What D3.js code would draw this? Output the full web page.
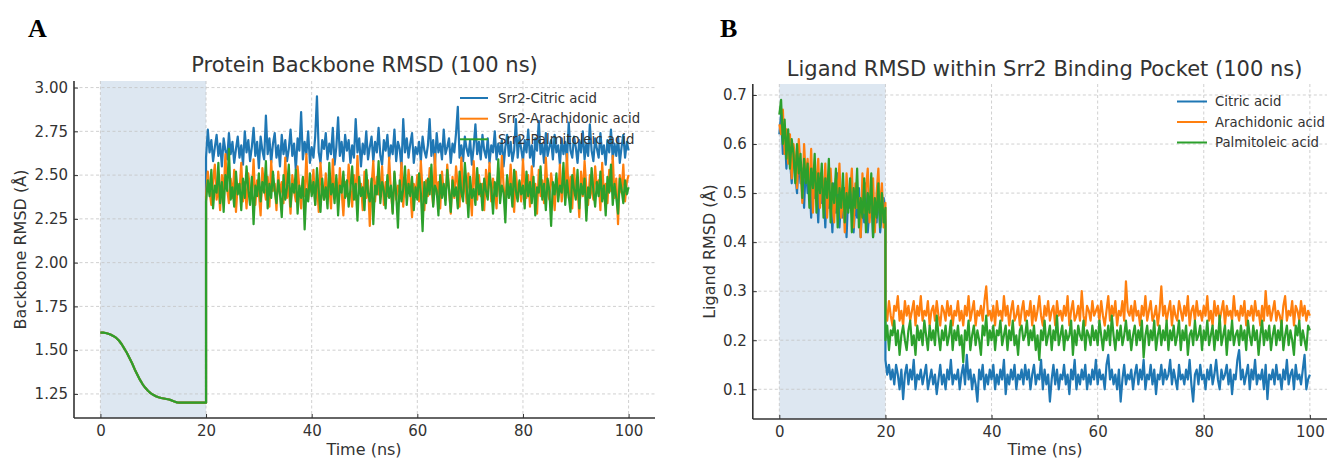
<!DOCTYPE html>
<html><head><meta charset="utf-8">
<script src="https://cdn.jsdelivr.net/npm/d3@7"></script>
<style>body{margin:0;background:#fff} svg{display:block}</style>
</head><body>
<svg id="c" width="1327" height="460"></svg>
<script>
// ---------------- data ----------------
const xTicks = [0, 20, 40, 60, 80, 100];
const yTicksA = [1.25, 1.50, 1.75, 2.00, 2.25, 2.50, 2.75, 3.00];
const yTicksB = [0.1, 0.2, 0.3, 0.4, 0.5, 0.6, 0.7];
const legendA = ["Srr2-Citric acid", "Srr2-Arachidonic acid", "Srr2-Palmitoleic acid"];
const legendB = ["Citric acid", "Arachidonic acid", "Palmitoleic acid"];
const equilEnd = 20;   // ns, shaded equilibration window
const simEnd = 100;    // ns

// Panel A, 0-20 ns (shared by the three systems)
const preA = [1.60,1.60,1.598,1.594,1.588,1.58,1.57,1.555,1.535,1.51,1.485,1.455,1.425,1.39,1.36,1.33,1.305,1.285,1.268,1.255,1.245,1.237,1.231,1.227,1.224,1.221,1.218,1.213,1.207,1.202,1.20,1.20,1.20,1.20,1.20,1.20,1.20,1.20,1.20,1.20,1.20];

// Panel A, 20-100 ns
const postA_citric = [2.60,2.76,2.63,2.70,2.58,2.66,2.73,2.61,2.68,2.55,2.71,2.64,2.59,2.74,2.62,2.69,2.57,2.65,2.72,2.60,
2.67,2.56,2.75,2.63,2.70,2.58,2.66,2.77,2.61,2.69,2.54,2.72,2.64,2.59,2.84,2.62,2.71,2.57,2.68,2.74,
2.60,2.67,2.55,2.73,2.62,2.70,2.58,2.65,2.76,2.61,2.68,2.53,2.71,2.64,2.86,2.59,2.69,2.62,2.75,2.57,
2.66,2.60,2.72,2.95,2.63,2.57,2.70,2.65,2.74,2.59,2.68,2.62,2.77,2.56,2.66,2.83,2.61,2.69,2.58,2.73,
2.64,2.70,2.57,2.67,2.60,2.82,2.63,2.71,2.55,2.68,2.62,2.75,2.59,2.66,2.72,2.58,2.69,2.63,2.77,2.61,
2.56,2.70,2.64,2.73,2.59,2.67,2.62,2.76,2.58,2.69,2.65,2.54,2.82,2.63,2.71,2.60,2.68,2.74,2.57,2.66,
2.62,2.69,2.58,2.72,2.64,2.60,2.67,2.82,2.61,2.70,2.56,2.74,2.63,2.68,2.59,2.76,2.62,2.66,2.71,2.57,
2.68,2.63,2.74,2.89,2.60,2.67,2.58,2.72,2.65,2.61,2.70,2.56,2.66,2.79,2.62,2.69,2.59,2.73,2.64,2.60,
2.71,2.57,2.67,2.63,2.75,2.59,2.68,2.62,2.70,2.55,2.66,2.73,2.61,2.69,2.58,2.64,2.82,2.60,2.72,2.65,
2.58,2.70,2.63,2.76,2.60,2.67,2.55,2.71,2.64,2.81,2.62,2.68,2.57,2.74,2.61,2.66,2.70,2.59,2.73,2.63,
2.67,2.56,2.71,2.62,2.69,2.58,2.80,2.64,2.60,2.72,2.66,2.57,2.70,2.63,2.75,2.59,2.68,2.61,2.79,2.64,
2.58,2.71,2.65,2.60,2.74,2.62,2.67,2.56,2.70,2.63,2.76,2.59,2.68,2.61,2.72,2.57,2.66,2.73,2.60,2.69,2.64];

const postA_arachidonic = [2.38,2.52,2.41,2.33,2.47,2.56,2.36,2.44,2.30,2.50,2.39,2.62,2.42,2.34,2.48,2.37,2.53,2.29,2.45,2.40,
2.57,2.35,2.46,2.31,2.51,2.42,2.38,2.59,2.33,2.47,2.40,2.27,2.54,2.43,2.36,2.49,2.32,2.58,2.41,2.45,
2.30,2.52,2.39,2.46,2.34,2.60,2.37,2.44,2.28,2.50,2.41,2.35,2.55,2.43,2.31,2.48,2.38,2.62,2.36,2.45,
2.40,2.53,2.33,2.47,2.29,2.57,2.42,2.36,2.51,2.39,2.44,2.31,2.59,2.37,2.48,2.34,2.54,2.41,2.27,2.46,
2.38,2.56,2.43,2.32,2.50,2.36,2.61,2.40,2.45,2.30,2.52,2.37,2.47,2.21,2.44,2.58,2.35,2.49,2.39,2.42,
2.55,2.33,2.46,2.38,2.60,2.41,2.29,2.51,2.36,2.44,2.40,2.57,2.32,2.48,2.37,2.53,2.42,2.26,2.45,2.39,
2.50,2.35,2.58,2.41,2.30,2.47,2.38,2.54,2.43,2.33,2.62,2.39,2.46,2.31,2.52,2.40,2.36,2.56,2.42,2.28,
2.49,2.37,2.55,2.44,2.32,2.60,2.39,2.47,2.34,2.51,2.41,2.27,2.58,2.43,2.36,2.50,2.38,2.45,2.30,2.53,
2.40,2.57,2.35,2.48,2.42,2.31,2.54,2.38,2.61,2.44,2.33,2.49,2.37,2.56,2.41,2.29,2.52,2.39,2.46,2.35,
2.59,2.42,2.37,2.50,2.32,2.55,2.40,2.45,2.28,2.53,2.38,2.47,2.34,2.60,2.41,2.36,2.51,2.43,2.30,2.48,
2.39,2.56,2.35,2.46,2.42,2.62,2.37,2.49,2.31,2.54,2.40,2.44,2.26,2.52,2.38,2.58,2.43,2.33,2.50,2.41,
2.36,2.55,2.42,2.47,2.30,2.57,2.39,2.45,2.34,2.53,2.41,2.61,2.37,2.48,2.22,2.50,2.40,2.56,2.35,2.46,2.50];

const postA_palmitoleic = [2.35,2.47,2.38,2.53,2.31,2.44,2.40,2.57,2.34,2.46,2.29,2.50,2.41,2.65,2.36,2.43,2.32,2.52,2.39,2.45,
2.30,2.48,2.37,2.55,2.42,2.33,2.49,2.22,2.44,2.38,2.51,2.35,2.46,2.40,2.58,2.31,2.45,2.37,2.52,2.41,
2.34,2.47,2.39,2.26,2.50,2.36,2.43,2.56,2.32,2.45,2.40,2.53,2.28,2.44,2.37,2.49,2.19,2.42,2.35,2.51,
2.38,2.46,2.33,2.54,2.41,2.29,2.48,2.36,2.43,2.31,2.57,2.39,2.45,2.34,2.50,2.27,2.44,2.40,2.52,2.37,
2.47,2.32,2.42,2.55,2.36,2.45,2.24,2.49,2.38,2.43,2.30,2.53,2.40,2.35,2.48,2.22,2.44,2.39,2.58,2.34,
2.46,2.41,2.31,2.50,2.37,2.44,2.28,2.52,2.39,2.20,2.47,2.35,2.42,2.55,2.33,2.45,2.38,2.49,2.30,2.43,
2.36,2.51,2.40,2.18,2.46,2.34,2.48,2.39,2.56,2.32,2.44,2.41,2.27,2.50,2.37,2.45,2.33,2.53,2.42,2.29,
2.47,2.38,2.43,2.31,2.52,2.40,2.35,2.57,2.44,2.26,2.49,2.37,2.42,2.33,2.54,2.39,2.45,2.30,2.48,2.41,
2.36,2.51,2.43,2.28,2.46,2.38,2.59,2.34,2.44,2.40,2.23,2.50,2.37,2.45,2.32,2.53,2.41,2.35,2.47,2.39,
2.44,2.31,2.52,2.38,2.46,2.34,2.49,2.27,2.43,2.40,2.55,2.36,2.45,2.30,2.48,2.41,2.21,2.46,2.39,2.51,
2.35,2.44,2.40,2.57,2.33,2.47,2.38,2.29,2.50,2.42,2.36,2.53,2.31,2.45,2.39,2.48,2.24,2.43,2.37,2.54,
2.41,2.32,2.46,2.38,2.52,2.35,2.44,2.27,2.49,2.40,2.56,2.33,2.45,2.37,2.28,2.48,2.42,2.34,2.47,2.39,2.43];

// Panel B, 0-20 ns
const preB_citric = [.62,.66,.58,.63,.55,.61,.57,.52,.59,.54,.50,.57,.52,.55,.47,.56,.50,.53,.45,.55,.49,.52,.44,.54,.48,.51,.43,.53,.47,.50,.42,.52,.46,.54,.43,.49,.45,.51,.41,.50,.47,.53,.42,.48,.45,.51,.41,.49,.44,.52,.42,.47,.50,.41,.48,.44,.51,.42,.46,.49,.44];
const preB_arachidonic = [.64,.62,.67,.58,.63,.56,.62,.53,.60,.57,.51,.61,.55,.48,.60,.53,.57,.50,.59,.46,.55,.52,.57,.47,.54,.49,.56,.45,.52,.55,.48,.44,.53,.50,.56,.45,.51,.42,.54,.48,.50,.55,.43,.52,.47,.49,.41,.54,.46,.51,.55,.44,.49,.53,.42,.50,.55,.45,.52,.43,.48];
const preB_palmitoleic = [.66,.69,.60,.65,.57,.63,.55,.61,.58,.52,.60,.54,.58,.49,.57,.52,.56,.47,.55,.51,.58,.46,.54,.50,.56,.45,.53,.49,.57,.44,.52,.48,.55,.43,.51,.47,.54,.44,.50,.46,.53,.42,.51,.47,.55,.43,.49,.45,.53,.42,.50,.46,.54,.41,.49,.45,.52,.43,.50,.44,.47];

// Panel B, 20-100 ns
const postB_citric = [.16,.13,.15,.12,.14,.11,.15,.13,.10,.14,.08,.13,.15,.11,.14,.12,.16,.10,.13,.12,
.14,.11,.13,.15,.10,.12,.14,.11,.13,.09,.12,.15,.11,.13,.10,.14,.12,.16,.11,.13,
.12,.14,.10,.13,.15,.11,.17,.12,.14,.10,.13,.11,.075,.14,.12,.15,.10,.13,.11,.14,
.12,.15,.10,.13,.11,.14,.12,.16,.09,.13,.11,.14,.12,.15,.10,.13,.12,.14,.11,.15,
.12,.14,.10,.13,.15,.11,.13,.12,.16,.10,.14,.11,.13,.075,.12,.15,.11,.14,.10,.13,
.12,.15,.11,.13,.09,.14,.12,.16,.10,.13,.11,.14,.12,.15,.10,.13,.11,.14,.12,.16,
.11,.14,.12,.13,.10,.15,.17,.12,.14,.11,.13,.10,.14,.075,.12,.15,.11,.13,.12,.14,
.10,.13,.15,.11,.14,.12,.16,.10,.13,.12,.15,.11,.14,.09,.13,.12,.15,.11,.14,.12,
.13,.16,.11,.14,.12,.10,.15,.12,.13,.11,.14,.12,.16,.11,.075,.13,.14,.11,.15,.12,
.13,.10,.14,.12,.15,.11,.13,.16,.12,.10,.14,.12,.13,.15,.11,.14,.09,.13,.12,.16,
.18,.12,.14,.11,.13,.15,.10,.14,.12,.16,.11,.13,.12,.14,.10,.15,.08,.13,.12,.14,
.11,.15,.12,.13,.10,.14,.12,.16,.11,.13,.14,.10,.15,.12,.13,.11,.14,.17,.10,.12,.13];

const postB_arachidonic = [.27,.24,.28,.25,.23,.27,.26,.29,.24,.26,.23,.28,.25,.27,.24,.26,.28,.23,.27,.25,
.29,.24,.26,.25,.28,.23,.26,.27,.24,.28,.25,.23,.27,.26,.24,.28,.25,.27,.23,.26,
.25,.28,.24,.26,.23,.27,.25,.29,.24,.26,.28,.23,.26,.25,.27,.24,.28,.31,.25,.26,
.24,.27,.23,.28,.25,.26,.24,.29,.25,.27,.23,.26,.28,.24,.25,.27,.23,.26,.28,.24,
.26,.25,.28,.23,.27,.24,.26,.29,.25,.23,.27,.25,.28,.24,.26,.27,.23,.28,.25,.26,
.24,.27,.25,.29,.23,.26,.28,.24,.25,.27,.24,.30,.25,.23,.27,.26,.24,.28,.25,.26,
.27,.24,.28,.25,.23,.26,.29,.24,.27,.25,.28,.23,.26,.25,.28,.24,.32,.26,.25,.27,
.24,.28,.25,.26,.23,.27,.25,.29,.24,.26,.28,.24,.25,.27,.23,.26,.31,.25,.27,.24,
.26,.28,.23,.27,.25,.24,.28,.26,.24,.27,.25,.29,.23,.26,.27,.24,.28,.25,.26,.24,
.27,.25,.29,.24,.26,.23,.28,.25,.27,.24,.26,.28,.23,.27,.25,.26,.24,.29,.25,.26,
.24,.27,.25,.28,.23,.26,.25,.27,.24,.28,.25,.26,.23,.27,.24,.30,.25,.27,.24,.26,
.28,.24,.26,.25,.23,.27,.29,.24,.26,.25,.28,.23,.27,.26,.24,.28,.25,.27,.24,.26,.25];

const postB_palmitoleic = [.20,.23,.18,.22,.21,.24,.19,.22,.17,.21,.23,.20,.18,.22,.24,.19,.21,.17,.23,.20,
.22,.19,.24,.21,.18,.23,.20,.22,.19,.25,.21,.18,.22,.20,.23,.19,.21,.24,.18,.22,
.20,.23,.19,.21,.155,.22,.20,.24,.18,.21,.23,.19,.22,.20,.17,.23,.21,.25,.19,.22,
.20,.23,.18,.22,.21,.24,.19,.21,.23,.18,.22,.20,.24,.19,.21,.17,.22,.23,.20,.21,
.24,.19,.22,.20,.23,.18,.21,.16,.22,.20,.24,.19,.21,.23,.18,.22,.20,.25,.19,.21,
.23,.18,.22,.20,.21,.24,.17,.22,.19,.23,.21,.20,.24,.18,.22,.21,.19,.23,.20,.22,
.19,.24,.21,.18,.22,.20,.23,.19,.25,.21,.18,.22,.20,.23,.19,.21,.24,.20,.22,.18,
.21,.23,.19,.22,.20,.24,.165,.21,.23,.19,.22,.20,.24,.18,.21,.23,.19,.22,.20,.24,
.18,.22,.20,.23,.19,.21,.24,.18,.22,.20,.23,.17,.21,.22,.19,.24,.20,.21,.23,.18,
.22,.20,.24,.19,.21,.23,.18,.22,.20,.25,.19,.21,.23,.17,.22,.20,.24,.19,.21,.22,
.19,.23,.20,.22,.18,.24,.21,.19,.23,.20,.22,.17,.21,.24,.19,.22,.20,.23,.18,.21,
.23,.19,.22,.20,.24,.18,.21,.23,.19,.22,.20,.17,.23,.21,.24,.19,.22,.20,.18,.23,.22];

const colors = ["#1f77b4", "#ff7f0e", "#2ca02c"];

// ---------------- drawing ----------------
const svg = d3.select("#c");
const FONT = "'DejaVu Sans', sans-serif";
const TXT = "#333333";

function toPoints(pre, post) {
  const a = pre.map((v, i) => [equilEnd * i / (pre.length - 1), v]);
  const b = post.map((v, i) => [equilEnd + (simEnd - equilEnd) * i / (post.length - 1), v]);
  return a.concat(b);
}

function panel(o) {
  const g = svg.append("g");
  const x = d3.scaleLinear().domain([-5, 105]).range(o.xr);
  const y = d3.scaleLinear().domain(o.yd).range(o.yr);
  const top = o.yr[1], bot = o.yr[0];

  // shaded equilibration window
  g.append("rect")
    .attr("x", x(0)).attr("y", top)
    .attr("width", x(equilEnd) - x(0)).attr("height", bot - top)
    .attr("fill", "#dde7f1");

  // grid
  g.append("g").selectAll("line").data(o.yTicks).join("line")
    .attr("x1", o.xr[0]).attr("x2", o.xr[1])
    .attr("y1", d => y(d)).attr("y2", d => y(d))
    .attr("stroke", "#c4c4c4").attr("stroke-width", 0.8).attr("stroke-dasharray", "3,2.5");
  g.append("g").selectAll("line").data(xTicks).join("line")
    .attr("x1", d => x(d)).attr("x2", d => x(d))
    .attr("y1", top).attr("y2", bot)
    .attr("stroke", "#c4c4c4").attr("stroke-width", 0.8).attr("stroke-dasharray", "3,2.5");

  // series
  const line = d3.line().x(d => x(d[0])).y(d => y(d[1]));
  o.series.forEach((s, k) => {
    g.append("path").datum(toPoints(s[0], s[1]))
      .attr("d", line).attr("fill", "none")
      .attr("stroke", colors[k]).attr("stroke-width", 2.2)
      .attr("stroke-linejoin", "round");
  });

  // axes
  const ax = g.append("g").attr("transform", `translate(0,${bot})`)
    .call(d3.axisBottom(x).tickValues(xTicks).tickFormat(d3.format("d"))
      .tickSizeInner(-4).tickSizeOuter(0).tickPadding(7));
  const ay = g.append("g").attr("transform", `translate(${o.xr[0]},0)`)
    .call(d3.axisLeft(y).tickValues(o.yTicks).tickFormat(d3.format(o.yFmt))
      .tickSizeInner(-4).tickSizeOuter(0).tickPadding(6));
  [ax, ay].forEach(a => {
    a.attr("font-family", FONT).attr("font-size", 15);
    a.select(".domain").attr("stroke", "#333").attr("stroke-width", 1.6);
    a.selectAll(".tick line").attr("stroke", "#333").attr("stroke-width", 1);
    a.selectAll(".tick text").attr("fill", TXT);
  });
  ax.select(".domain").attr("d", `M${o.xr[0]},0H${o.xr[1]}`);
  ay.select(".domain").attr("d", `M0,${bot}V${top}`);

  // title & labels
  const cx = (o.xr[0] + o.xr[1]) / 2;
  svg.append("text").attr("x", cx).attr("y", o.titleY).attr("text-anchor", "middle")
    .attr("font-family", FONT).attr("font-size", 21).attr("fill", TXT).text(o.title);
  svg.append("text").attr("x", o.xlabelX).attr("y", 455).attr("text-anchor", "middle")
    .attr("font-family", FONT).attr("font-size", 16).attr("fill", TXT).text("Time (ns)");
  svg.append("text")
    .attr("transform", `translate(${o.ylabelX},${(top + bot) / 2}) rotate(-90)`)
    .attr("text-anchor", "middle")
    .attr("font-family", FONT).attr("font-size", 16).attr("fill", TXT).text(o.ylabel);

  // panel letter
  svg.append("text").attr("x", o.letterX).attr("y", 37)
    .attr("font-family", "'Liberation Serif', 'Times New Roman', serif")
    .attr("font-weight", "bold").attr("font-size", 26).attr("fill", "#000").text(o.letter);

  // legend (no frame)
  const lg = svg.append("g");
  o.legend.forEach((t, k) => {
    const yy = o.legY[k];
    lg.append("line").attr("x1", o.legX).attr("x2", o.legX + o.legLen)
      .attr("y1", yy).attr("y2", yy)
      .attr("stroke", colors[k]).attr("stroke-width", 2);
    lg.append("text").attr("x", o.legX + o.legLen + o.legGap).attr("y", yy + 4.6)
      .attr("font-family", FONT).attr("font-size", 13.3).attr("fill", TXT).text(t);
  });
}

panel({
  xr: [74, 655], yd: [1.1125, 3.0375], yr: [418, 81],
  yTicks: yTicksA, yFmt: ".2f",
  title: "Protein Backbone RMSD (100 ns)", titleY: 72,
  xlabelX: 364, ylabel: "Backbone RMSD (Å)", ylabelX: 26,
  letter: "A", letterX: 28,
  legend: legendA, legX: 460, legLen: 28, legGap: 10, legY: [98, 118.7, 139.3],
  series: [[preA, postA_citric], [preA, postA_arachidonic], [preA, postA_palmitoleic]]
});

panel({
  xr: [752.8, 1336.4], yd: [0.0394, 0.7224], yr: [419, 84],
  yTicks: yTicksB, yFmt: ".1f",
  title: "Ligand RMSD within Srr2 Binding Pocket (100 ns)", titleY: 76,
  xlabelX: 1045, ylabel: "Ligand RMSD (Å)", ylabelX: 715,
  letter: "B", letterX: 720,
  legend: legendB, legX: 1177, legLen: 30, legGap: 8, legY: [101.5, 122, 142.5],
  series: [[preB_citric, postB_citric], [preB_arachidonic, postB_arachidonic], [preB_palmitoleic, postB_palmitoleic]]
});
</script>
</body></html>
